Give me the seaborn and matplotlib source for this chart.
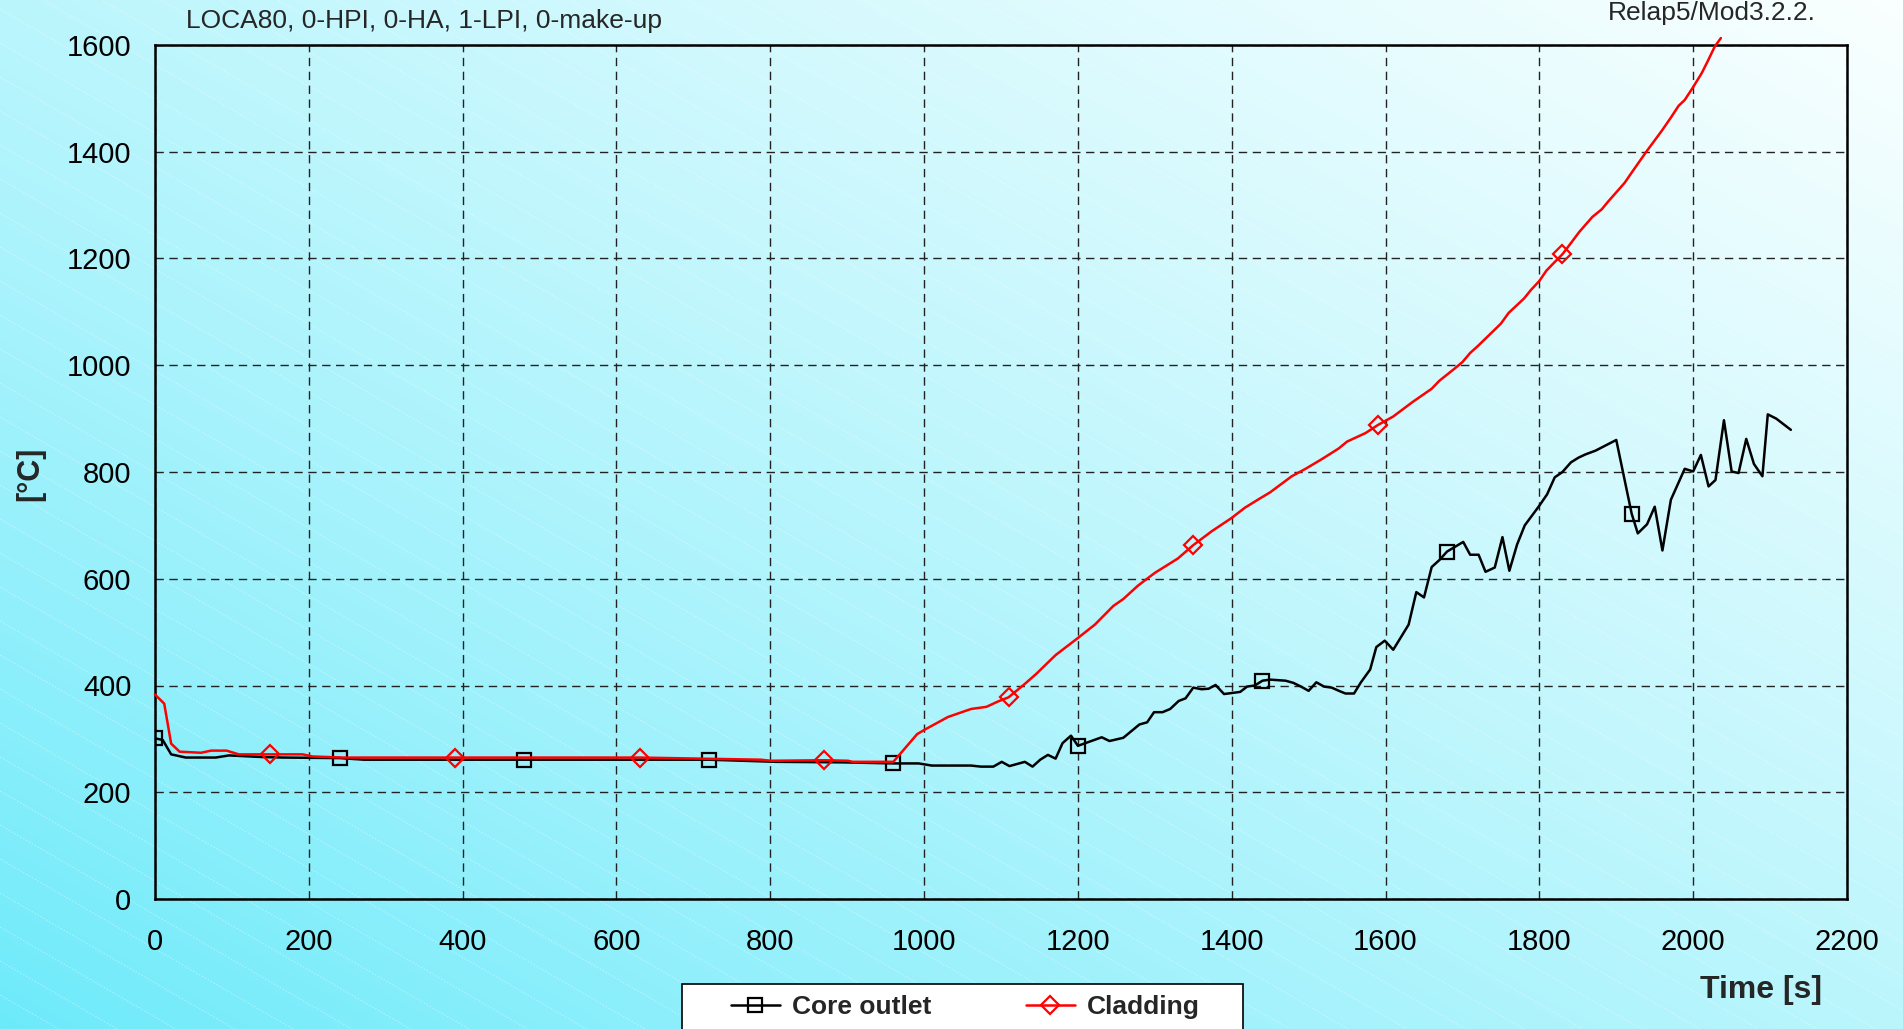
import numpy as np
import matplotlib
matplotlib.use("Agg")
import matplotlib.pyplot as plt
from matplotlib.patches import Rectangle
import seaborn as sns

sns.set_theme(style="white")
plt.rcParams['font.family'] = ['Liberation Sans', 'DejaVu Sans']

# ---------------------------------------------------------
# 資料 (從圖上讀出的數值)
# ---------------------------------------------------------
core_t = [0, 10, 21, 40, 79, 96, 139, 166, 240, 272, 480, 720, 808, 894, 960, 993,
          1010, 1061, 1074, 1090, 1101, 1111, 1131, 1141, 1151, 1161, 1171, 1180, 1191,
          1200, 1231, 1241, 1259, 1280, 1290, 1299, 1310, 1320, 1331, 1340, 1350, 1361,
          1370, 1379, 1390, 1411, 1420, 1430, 1440, 1450, 1470, 1480, 1490, 1500, 1510,
          1520, 1530, 1541, 1548, 1559, 1568, 1580, 1588, 1599, 1610, 1630, 1640, 1650,
          1660, 1670, 1680, 1701, 1710, 1721, 1730, 1742, 1752, 1761, 1771, 1781, 1800,
          1810, 1820, 1830, 1841, 1851, 1860, 1873, 1900, 1920, 1928, 1940, 1950, 1960,
          1971, 1989, 2000, 2010, 2020, 2029, 2040, 2050, 2059, 2069, 2079, 2090, 2097,
          2108, 2127]
core_T = [301, 298, 271, 265, 265, 269, 266, 265, 264, 261, 261, 261, 257, 256, 254, 254,
          250, 250, 248, 248, 257, 249, 257, 248, 261, 270, 263, 292, 306,
          287, 303, 296, 302, 327, 331, 350, 350, 356, 371, 376, 396, 393,
          394, 401, 384, 388, 398, 400, 409, 411, 409, 405, 398, 390, 406,
          398, 396, 389, 385, 385, 406, 430, 472, 484, 467, 514, 575, 565,
          622, 635, 651, 669, 645, 645, 613, 621, 678, 615, 664, 700, 737,
          758, 790, 800, 818, 827, 833, 840, 860, 722, 685, 702, 735, 653,
          748, 806, 801, 832, 773, 785, 897, 801, 798, 862, 815, 792, 908,
          900, 879]

clad_t = [0, 12, 21, 32, 60, 73, 93, 109, 150, 192, 205, 245, 390, 630, 788, 801, 870,
          901, 907, 960, 966, 991, 1003, 1031, 1061, 1081, 1096, 1110, 1131, 1146, 1171,
          1200, 1222, 1246, 1259, 1278, 1300, 1330, 1350, 1374, 1400, 1417, 1435, 1450,
          1478, 1496, 1517, 1539, 1550, 1574, 1590, 1610, 1635, 1660, 1670, 1690, 1700,
          1710, 1720, 1740, 1750, 1760, 1780, 1789, 1800, 1809, 1819, 1830, 1839, 1852,
          1869, 1881, 1889, 1911, 1921, 1939, 1959, 1971, 1981, 1989, 1999, 2011, 2019,
          2028, 2036]
clad_T = [383, 366, 291, 276, 274, 278, 278, 271, 271, 271, 267, 265, 265, 265, 261, 259, 260,
          259, 257, 257, 267, 309, 319, 341, 356, 360, 370, 378, 403, 422, 457,
          489, 514, 549, 562, 587, 611, 638, 663, 689, 714, 733, 749, 762,
          792, 806, 824, 844, 857, 873, 888, 904, 931, 956, 971, 994, 1006,
          1023, 1036, 1064, 1078, 1098, 1125, 1141, 1158, 1177, 1192, 1208, 1225, 1250,
          1278, 1292, 1306, 1342, 1363, 1400, 1439, 1464, 1486, 1497, 1519, 1547, 1570,
          1597, 1613]

core_marks = [0, 240, 480, 720, 960, 1200, 1440, 1680, 1920]
clad_marks = [150, 390, 630, 870, 1110, 1350, 1590, 1830]

x_ticks = list(range(0, 2201, 200))
y_ticks = list(range(0, 1601, 200))

W, H = 1903, 1029
fig = plt.figure(figsize=(W / 100, H / 100), dpi=100)

# 背景漸層 + 斜線
bg = fig.add_axes([0, 0, 1, 1], zorder=-1)
xx, yy = np.meshgrid(np.linspace(0, 1, 400), np.linspace(1, 0, 220))
tt = np.clip((xx + yy) / 2, 0, 1)[..., None] ** 0.85
c0 = np.array([108, 234, 250]) / 255
c1 = np.array([250, 255, 255]) / 255
bg.imshow(c0 + (c1 - c0) * tt, aspect='auto', extent=[0, W, 0, H], interpolation='bilinear')
for c in range(0, W + 1500, 34):
    bg.plot([0, W], [c, c - 0.58 * W], color='white', lw=0.6, alpha=0.45,
            ls=(0, (2, 2)))
bg.set_xlim(0, W)
bg.set_ylim(0, H)
bg.axis('off')

ax = fig.add_axes([155 / W, 1 - 899 / H, (1847 - 155) / W, (899 - 45) / H])
ax.set_facecolor('none')

core_idx = [i for i, t in enumerate(core_t) if t in core_marks]
clad_idx = [i for i, t in enumerate(clad_t) if t in clad_marks]

sns.lineplot(x=core_t, y=core_T, ax=ax, color='black', lw=1.8, legend=False,
             marker='s', markevery=core_idx, markersize=10, markerfacecolor='none',
             markeredgecolor='black', markeredgewidth=1.6, label='Core outlet', zorder=3)
sns.lineplot(x=clad_t, y=clad_T, ax=ax, color='#ff0000', lw=1.8, legend=False,
             marker='D', markevery=clad_idx, markersize=9, markerfacecolor='none',
             markeredgecolor='#ff0000', markeredgewidth=1.6, label='Cladding',
             zorder=4, clip_on=False)

ax.set_xlim(0, 2200)
ax.set_ylim(0, 1600)
ax.set_xticks(x_ticks)
ax.set_yticks(y_ticks)
ax.tick_params(axis='both', direction='out', length=8, width=1.5, colors='black',
               labelsize=21)
ax.tick_params(axis='x', pad=13)
ax.tick_params(axis='y', pad=9)
ax.grid(True, color='#222222', lw=1.0, ls=(0, (6, 4)))
for s in ax.spines.values():
    s.set_visible(True)
    s.set_color('black')
    s.set_linewidth(1.8)
ax.set_xlabel('')
ax.set_ylabel('')

fig.text(0.0158, 0.540, '[°C]', rotation=90, fontsize=22, fontweight='bold',
         ha='center', va='center')
fig.text(1822 / W, 1 - 990 / H, 'Time [s]', fontsize=23, fontweight='bold',
         ha='right', va='center')
fig.text(186 / W, 1 - 21 / H, 'LOCA80, 0-HPI, 0-HA, 1-LPI, 0-make-up', fontsize=19,
         ha='left', va='center')
fig.text(1816 / W, 1 - 13 / H, 'Relap5/Mod3.2.2.', fontsize=19, ha='right', va='center')

# 圖例外框 (底邊超出圖片)
fig.patches.append(Rectangle((682 / W, -0.02), 561 / W, (1029 - 984) / H + 0.02,
                             transform=fig.transFigure, facecolor='white',
                             edgecolor='black', lw=1.2, zorder=5))
handles = ax.get_lines()[:2]
leg = fig.legend(handles, ['Core outlet', 'Cladding'], loc='center left',
                 bbox_to_anchor=(731 / W, 1 - 1007 / H), ncol=2, frameon=False,
                 handlelength=1.84, handletextpad=0.46, columnspacing=3.6,
                 borderpad=0, borderaxespad=0,
                 prop={'weight': 'bold', 'size': 19})
leg.set_zorder(6)

fig.savefig('out.png', dpi=100)
